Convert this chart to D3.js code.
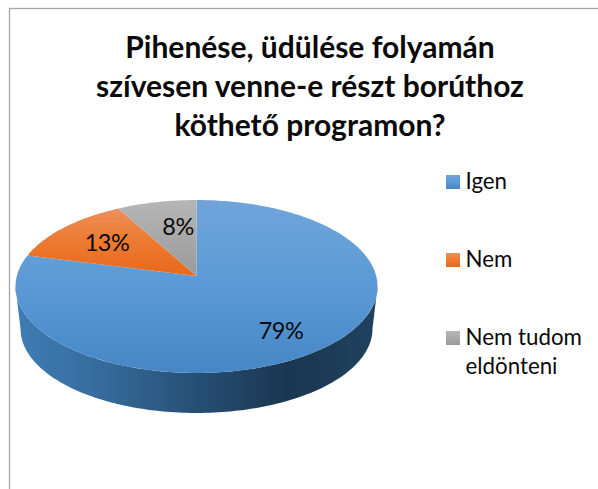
<!DOCTYPE html>
<html>
<head>
<meta charset="utf-8">
<script src="https://cdn.jsdelivr.net/npm/d3@7"></script>
<style>
  html, body { margin: 0; padding: 0; background: #fff; overflow: hidden; }
  text { font-family: Lato, "Open Sans", sans-serif; fill: #0a0a0a; }
</style>
</head>
<body>
<div id="chart"></div>
<script>
const categories = ["Igen", "Nem", "Nem tudom eldönteni"];
const values = [79, 13, 8];
const valueLabels = ["79%", "13%", "8%"];
const titleLines = ["Pihenése, üdülése folyamán", "szívesen venne-e részt borúthoz", "köthető programon?"];
const legendLines = [["Igen"], ["Nem"], ["Nem tudom", "eldönteni"]];

const width = 598, height = 489;
const topColors = [["#70a4da", "#5b9ad6", "#4686c6"], ["#ee8f5a", "#ec7a30", "#e8681a"], ["#b6b6b6", "#a8a8a8", "#9a9a9a"]];

const svg = d3.select("#chart").append("svg")
  .attr("width", width)
  .attr("height", height);

const defs = svg.append("defs");

categories.forEach((c, i) => {
  const g = defs.append("linearGradient")
    .attr("id", "grad" + i)
    .attr("x1", 0).attr("y1", 0).attr("x2", 0).attr("y2", 1);
  topColors[i].forEach((col, j) => {
    g.append("stop").attr("offset", j / 2).attr("stop-color", col);
  });
});

const wallGrad = defs.append("linearGradient")
  .attr("id", "wall")
  .attr("x1", 0).attr("y1", 0).attr("x2", 1).attr("y2", 0);
[[0, "#3f7db5"], [0.25, "#356a9a"], [0.5, "#264f75"], [0.75, "#1b3650"], [1, "#20425f"]].forEach(s => {
  wallGrad.append("stop").attr("offset", s[0]).attr("stop-color", s[1]);
});

// chart frame, runs off the right and bottom of the picture
svg.append("rect")
  .attr("x", 9.5).attr("y", 8.5)
  .attr("width", width + 20).attr("height", height + 20)
  .attr("fill", "none")
  .attr("stroke", "#a6a6a6")
  .attr("stroke-width", 1.3);

// title
svg.append("g").selectAll("text")
  .data(titleLines)
  .enter().append("text")
    .attr("x", 310)
    .attr("y", (d, i) => 58 + i * 39)
    .attr("text-anchor", "middle")
    .attr("font-size", "30px")
    .attr("font-weight", "bold")
    .text(d => d);

// --- pie with a little perspective ---
const cx = 196.5, cy = 276;
const radiusX = 179.7, radiusY = 85.2, persp = 0.1214;
const wallDrop = 42.7, wallShrink = 0.972;

function project(angle, r, isBottom) {
  const u = r * Math.sin(angle), v = r * Math.cos(angle);
  const w = 1 + persp * v;
  const s = isBottom ? wallShrink : 1;
  return [cx + s * radiusX * u / w, cy + (isBottom ? wallDrop : 0) - s * radiusY * v / w];
}

function rim(a0, a1, isBottom) {
  const n = Math.max(2, Math.ceil(Math.abs(a1 - a0) / 0.02));
  return d3.range(n + 1).map(i => project(a0 + (a1 - a0) * i / n, 1, isBottom));
}

const line = d3.line();
const slices = d3.pie().sort(null)(values);

// front wall: only the part of each slice that faces us, widest point to widest point
const frontStart = Math.PI / 2 + persp, frontEnd = Math.PI * 1.5 - persp;
const wallG = svg.append("g");
slices.forEach(d => {
  const a0 = Math.max(d.startAngle, frontStart), a1 = Math.min(d.endAngle, frontEnd);
  if (a1 <= a0) return;
  wallG.append("path")
    .attr("d", line(rim(a0, a1, false).concat(rim(a1, a0, true))) + "Z")
    .attr("fill", "url(#wall)");
});

svg.append("g").selectAll("path")
  .data(slices)
  .enter().append("path")
    .attr("d", d => line([project(0, 0, false)].concat(rim(d.startAngle, d.endAngle, false))) + "Z")
    .attr("fill", (d, i) => `url(#grad${i})`);

// data labels
const labelAt = [[281, 339], [107, 251], [178, 235]];
svg.append("g").selectAll("text")
  .data(valueLabels)
  .enter().append("text")
    .attr("x", (d, i) => labelAt[i][0])
    .attr("y", (d, i) => labelAt[i][1])
    .attr("text-anchor", "middle")
    .attr("font-size", "23.5px")
    .attr("letter-spacing", "-0.6px")
    .text(d => d);

// legend
const legend = svg.append("g").selectAll("g")
  .data(categories)
  .enter().append("g")
    .attr("transform", (d, i) => `translate(446,${175 + i * 78})`);

legend.append("rect")
  .attr("width", 14)
  .attr("height", 14)
  .attr("fill", (d, i) => `url(#grad${i})`);

legend.each(function(d, i) {
  d3.select(this).selectAll("text")
    .data(legendLines[i])
    .enter().append("text")
      .attr("x", 19.5)
      .attr("y", (t, j) => 14 + j * 29)
      .attr("font-size", "22.3px")
      .text(t => t);
});
</script>
</body>
</html>
